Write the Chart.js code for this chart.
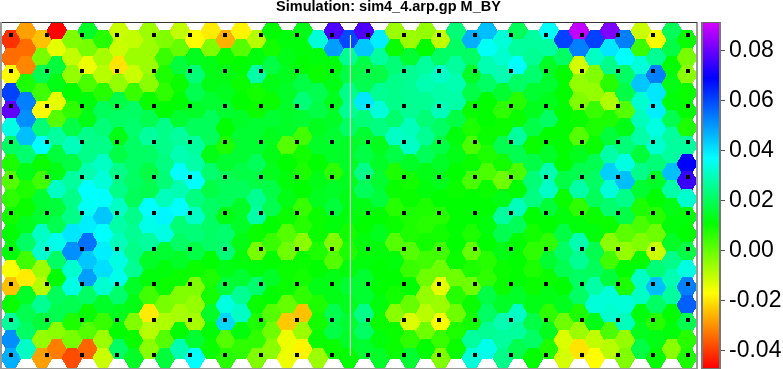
<!DOCTYPE html>
<html>
<head>
<meta charset="utf-8">
<style>
  body { margin: 0; background: #fff; }
  canvas { position: absolute; top: 0; }
  #map { left: 0; }
  #bar { left: 690px; }
</style>
<script src="https://cdn.jsdelivr.net/npm/chart.js@4"></script>
</head>
<body>
<canvas id="map" width="775" height="369"></canvas>
<canvas id="bar" width="93" height="369"></canvas>
<script>
const titleText = "Simulation: sim4_4.arp.gp M_BY";

// M_BY per hexagon x 1000, one list per mesh column, top row first
const col00 = [-41,-34,-17,61,79,34,21,8,2,6,9,11,12,-16,-24,10,27,51,47];
const col01 = [-28,-34,-31,8,53,51,45,22,13,8,10,14,21,4,-19,15,19,21,31];
const col02 = [-24,-2,19,4,-17,23,37,10,4,16,16,31,32,-6,-9,26,17,-5,-28];
const col03 = [-47,-14,17,13,-14,2,27,17,13,31,17,19,35,21,11,20,19,-4,-32];
const col04 = [-3,-10,-5,11,6,18,30,18,27,25,25,40,51,32,34,19,8,-2,-38];
const col05 = [15,-2,-15,3,12,13,25,25,29,37,36,39,55,44,49,21,10,2,-35];
const col06 = [7,-7,-9,7,20,23,25,31,33,37,44,37,39,41,32,15,5,-6,-11];
const col07 = [-11,-11,-20,-5,18,21,13,18,25,25,31,28,30,34,35,22,14,11,21];
const col08 = [-10,-6,-11,5,21,22,21,21,21,20,25,26,25,26,15,13,-3,10,15];
const col09 = [-6,-6,-6,-4,10,19,27,21,18,19,37,35,27,15,12,4,-19,-9,-4];
const col10 = [-3,5,8,6,11,25,25,24,23,30,38,34,16,12,10,-2,-8,2,17];
const col11 = [-10,0,17,10,11,16,27,29,37,29,37,23,21,15,10,-3,-7,11,29];
const col12 = [-17,14,23,19,15,20,27,28,37,24,31,23,18,10,-3,-5,-7,16,37];
const col13 = [-19,-3,13,13,16,20,20,13,22,18,21,21,21,11,8,9,15,11,10];
const col14 = [-26,10,13,14,16,11,8,16,20,20,13,22,23,13,17,34,42,2,7];
const col15 = [-18,2,11,10,11,15,16,16,18,20,15,15,13,12,16,26,31,12,6];
const col16 = [-9,12,28,9,10,16,16,20,18,26,28,10,-2,12,22,10,8,6,-3];
const col17 = [11,9,18,13,10,16,14,13,14,18,19,11,5,11,15,11,2,-1,-4];
const col18 = [12,13,14,15,15,15,2,11,12,13,10,2,-1,10,10,0,-23,-15,-15];
const col19 = [13,12,11,18,23,16,4,9,8,11,5,7,-4,10,9,6,-24,-6,-18];
const col20 = [33,12,10,19,18,14,15,11,13,14,10,10,8,11,13,8,9,10,-6];
const col21 = [77,49,12,13,14,15,16,15,6,15,17,12,-3,2,13,13,19,18,10];
const col22 = [60,26,18,25,26,21,15,15,14,13,12,9,8,12,16,14,16,15,11];
const col23 = [77,44,18,19,40,23,16,18,25,20,13,11,12,12,16,16,25,21,16];
const col24 = [39,27,18,26,33,24,14,15,16,17,11,14,12,11,11,12,10,12,15];
const col25 = [-6,10,23,25,25,22,31,18,8,10,7,10,2,12,11,9,-4,10,10];
const col26 = [-6,16,26,26,26,30,31,15,9,10,8,8,2,5,11,0,-13,6,16];
const col27 = [-5,11,27,29,26,23,26,20,13,12,8,7,9,4,-1,-5,-9,-1,11];
const col28 = [-10,21,31,28,30,21,18,15,14,11,7,9,4,-1,-14,-6,-16,5,-3];
const col29 = [23,21,27,29,28,18,12,13,11,10,11,11,11,10,-1,7,-1,8,10];
const col30 = [47,21,15,18,10,8,3,10,3,11,11,8,0,8,-1,10,9,27,33];
const col31 = [45,36,29,21,11,11,10,8,3,10,11,12,11,7,6,18,21,26,35];
const col32 = [33,32,29,16,6,10,19,9,-1,13,27,19,13,10,10,15,29,27,25];
const col33 = [20,27,37,21,7,10,27,19,3,11,30,20,11,11,11,15,31,27,19];
const col34 = [27,26,22,16,14,18,10,18,23,24,11,9,6,8,10,13,18,21,11];
const col35 = [36,27,15,16,14,21,11,15,29,31,17,11,6,16,10,13,6,14,8];
const col36 = [61,21,11,11,11,11,11,11,18,10,12,18,21,19,11,14,-1,-13,-12];
const col37 = [89,53,-12,-5,-3,10,2,14,19,28,6,12,29,26,21,21,8,-6,-20];
const col38 = [61,31,-3,-5,5,8,10,19,21,20,10,12,19,20,28,33,13,-10,-17];
const col39 = [82,40,25,7,-8,8,17,28,43,33,22,10,-4,4,17,33,32,3,-9];
const col40 = [53,37,21,18,2,13,23,34,45,25,18,1,-5,11,8,33,30,-5,-3];
const col41 = [-11,5,33,44,32,30,28,17,25,16,8,3,-3,11,31,31,12,14,18];
const col42 = [-16,26,53,40,39,34,32,23,15,11,7,-1,-11,23,45,21,7,13,11];
const col43 = [20,18,11,13,12,19,27,27,45,28,13,12,15,25,29,27,11,12,-4];
const col44 = [10,-2,-4,10,11,8,27,69,75,32,12,11,18,34,53,57,19,7,8];
const columns = [col00,col01,col02,col03,col04,col05,col06,col07,col08,col09,
  col10,col11,col12,col13,col14,col15,col16,col17,col18,col19,
  col20,col21,col22,col23,col24,col25,col26,col27,col28,col29,
  col30,col31,col32,col33,col34,col35,col36,col37,col38,col39,
  col40,col41,col42,col43,col44];

// black station markers, in mesh column / row units
const markerX = [0,2.32,4.65,6.93,9.28,11.63,13.9,16.28,18.63,20.9,23.24,25.59,27.86,30.2,32.55,34.82,37.17,39.52,41.8,44.1];
const markerY = [-0.28,1.73,3.75,5.76,7.77,9.78,11.8,13.81,15.82,17.83];

// the thin pale seam down the middle
const seamX = [22.1,22.1];
const seamY = [-0.28,17.85];

// colour bar
const barMin = -0.0468;
const barMax = 0.091;
const barTicks = [-0.04,-0.02,0,0.02,0.04,0.06,0.08];
const stopValues = [-0.0468,-0.0168,0.011,0.037,0.069,0.091];
const stopHues = [0,60,120,180,240,290];

const hueFor = (v) => {
  if (v <= stopValues[0]) return stopHues[0];
  for (let i = 1; i < stopValues.length; i++) {
    if (v <= stopValues[i]) {
      const t = (v - stopValues[i - 1]) / (stopValues[i] - stopValues[i - 1]);
      return stopHues[i - 1] + t * (stopHues[i] - stopHues[i - 1]);
    }
  }
  return stopHues[stopHues.length - 1];
};

// the reference has hard jagged edges, so hexagons are filled row by row without antialiasing
const hexCache = {};
const hexFor = (v) => {
  if (hexCache[v]) return hexCache[v];
  const c = document.createElement("canvas");
  c.width = 22;
  c.height = 20;
  const g = c.getContext("2d");
  g.fillStyle = "hsl(" + hueFor(v) + ",100%,50%)";
  for (let y = 0; y < 20; y++) {
    const half = Math.round(10.6 - Math.abs(y + 0.5 - 10) * 0.577);
    g.fillRect(11 - half, y, half * 2, 1);
  }
  hexCache[v] = c;
  return c;
};

const markerCanvas = document.createElement("canvas");
markerCanvas.width = 4;
markerCanvas.height = 4;
markerCanvas.getContext("2d").fillRect(0, 0, 4, 4);

const hexPoints = [];
columns.forEach((col, k) => {
  col.forEach((v, r) => {
    hexPoints.push({x: k, y: k % 2 ? r - 0.5 : r, v: v / 1000});
  });
});

const markerPoints = [];
markerY.forEach(y => markerX.forEach(x => markerPoints.push({x, y})));

const framePlugin = {
  id: "frame",
  beforeDatasetsDraw(chart) {
    chart.ctx.imageSmoothingEnabled = false;
  },
  afterDraw(chart, args, opts) {
    const {left, right, top, bottom} = chart.chartArea;
    const g = chart.ctx;
    g.save();
    g.fillStyle = opts.side;
    g.fillRect(left - 2, top - 1, 2, bottom - top + 2);
    g.fillRect(right - 1, top - 1, 2, bottom - top + 2);
    g.fillRect(left - 2, bottom, right - left + 3, 1);
    g.fillStyle = opts.top;
    g.fillRect(left, top - 1, right - left, 1);
    g.restore();
  }
};

new Chart(document.getElementById("map"), {
  type: "scatter",
  data: {
    datasets: [
      {
        data: markerPoints,
        order: 1,
        pointStyle: markerCanvas,
        pointRadius: 3,
      },
      {
        data: seamX.map((x, i) => ({x, y: seamY[i]})),
        order: 2,
        showLine: true,
        pointRadius: 0,
        borderColor: "#e4f0e4",
        borderWidth: 1,
      },
      {
        data: hexPoints,
        order: 3,
        pointStyle: (ctx) => hexFor(ctx.raw.v),
        pointRadius: 10,
      },
    ],
  },
  options: {
    responsive: false,
    animation: false,
    events: [],
    layout: {autoPadding: false, padding: {left: 2, bottom: 1}},
    plugins: {
      legend: {display: false},
      tooltip: {enabled: false},
      title: {
        display: true,
        text: titleText,
        color: "#000",
        font: {family: "'Liberation Sans', Arial, sans-serif", size: 14.5, weight: "bold"},
        padding: {top: -1.5, bottom: 7.1},
      },
      frame: {side: "#999", top: "#333"},
    },
    scales: {
      x: {type: "linear", display: false, min: -0.586, max: 44.66},
      y: {type: "linear", display: false, min: -0.96, max: 18.56, reverse: true},
      // empty axis holds the room right of the map, so the title sits where the reference has it
      spare: {
        type: "linear",
        position: "right",
        ticks: {display: false},
        grid: {display: false},
        border: {display: false},
        afterFit: (s) => { s.width = 78; },
      },
    },
  },
  plugins: [framePlugin],
});

new Chart(document.getElementById("bar"), {
  type: "bar",
  data: {
    labels: ["M_BY"],
    datasets: [{
      data: [[barMin, barMax]],
      borderWidth: 0,
      barPercentage: 1,
      categoryPercentage: 1,
      backgroundColor: (ctx) => {
        const y = ctx.chart.scales.y;
        if (!ctx.chart.chartArea || !y) return "#0f0";
        const grad = ctx.chart.ctx.createLinearGradient(0, y.getPixelForValue(barMin), 0, y.getPixelForValue(barMax));
        stopValues.forEach((v, i) => {
          grad.addColorStop((v - barMin) / (barMax - barMin), "hsl(" + stopHues[i] + ",100%,50%)");
        });
        return grad;
      },
    }],
  },
  options: {
    responsive: false,
    animation: false,
    events: [],
    layout: {autoPadding: false, padding: {left: 13, top: 23, bottom: 1}},
    plugins: {
      legend: {display: false},
      tooltip: {enabled: false},
      frame: {side: "#777", top: "#666"},
    },
    scales: {
      x: {display: false},
      y: {
        position: "right",
        min: barMin,
        max: barMax,
        afterBuildTicks: (s) => { s.ticks = barTicks.map(value => ({value})); },
        afterFit: (s) => { s.width = 63; s.paddingTop = 0; s.paddingBottom = 0; },
        border: {display: false},
        grid: {drawOnChartArea: false, drawTicks: true, tickLength: 5, tickColor: "#555"},
        ticks: {
          color: "#000",
          padding: 4,
          autoSkip: false,
          maxRotation: 0,
          font: {family: "'Liberation Sans', Arial, sans-serif", size: 23},
          callback: (v) => v.toFixed(2),
        },
      },
    },
  },
  plugins: [framePlugin],
});
</script>
</body>
</html>
